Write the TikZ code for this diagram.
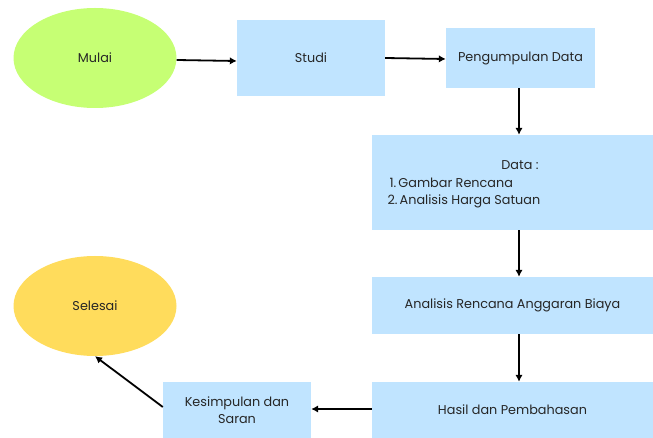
\documentclass[tikz,border=0pt]{standalone}
\usepackage{fontspec}
\setmainfont{Poppins}
\usetikzlibrary{arrows.meta,shapes.geometric}
\definecolor{startgreen}{HTML}{C6FF74}
\definecolor{endyellow}{HTML}{FFDC5C}
\definecolor{boxblue}{HTML}{C0E4FF}
\tikzset{
  x=1pt, y=-1pt,
  every node/.style={font=\fontsize{12.8}{17}\selectfont, text=black!85},
  terminal/.style={ellipse, inner sep=0pt, minimum width=163pt, minimum height=100pt},
  procbox/.style={rectangle, fill=boxblue, inner sep=0pt},
  flow/.style={line width=1.8pt, -{Latex[length=7pt,width=7.5pt]}},
}
\begin{document}
\begin{tikzpicture}
\useasboundingbox (0,0) rectangle (653,438);

% start / end terminals
\node[terminal, fill=startgreen] (mulai) at (95,58) {Mulai};
\node[terminal, fill=endyellow] (selesai) at (95,306) {Selesai};

% process boxes
\node[procbox, minimum width=148pt, minimum height=76pt] (studi) at (311,58) {Studi};
\node[procbox, minimum width=149pt, minimum height=60pt] (kumpul) at (520.5,58) {Pengumpulan Data};
\node[procbox, minimum width=281pt, minimum height=95pt] (data) at (512.5,182.5) {};
\node at (520,165) {Data :};
\node[anchor=west] at (386,183) {1.\,Gambar Rencana};
\node[anchor=west] at (384,201) {2.\,Analisis Harga Satuan};
\node[procbox, minimum width=281pt, minimum height=57pt] (rab) at (512.5,305.5) {Analisis Rencana Anggaran Biaya};
\node[procbox, minimum width=281pt, minimum height=56pt] (hasil) at (512.5,410) {Hasil dan Pembahasan};
\node[procbox, minimum width=148pt, minimum height=56pt, align=center] (simpul) at (237,410) {Kesimpulan dan\\Saran};

% connectors
\draw[flow] (mulai.east |- 0,60) -- (studi.west |- 0,61);
\draw[flow] (studi.east |- 0,58) -- (kumpul.west |- 0,59);
\draw[flow] (kumpul.south -| 519,0) -- (data.north -| 519,0);
\draw[flow] (data.south -| 519,0) -- (rab.north -| 519,0);
\draw[flow] (rab.south -| 519,0) -- (hasil.north -| 519,0);
\draw[flow] (hasil.west |- 0,409) -- (simpul.east |- 0,409);
\draw[flow] (simpul.west |- 0,407) -- (selesai.south);
\end{tikzpicture}
\end{document}
